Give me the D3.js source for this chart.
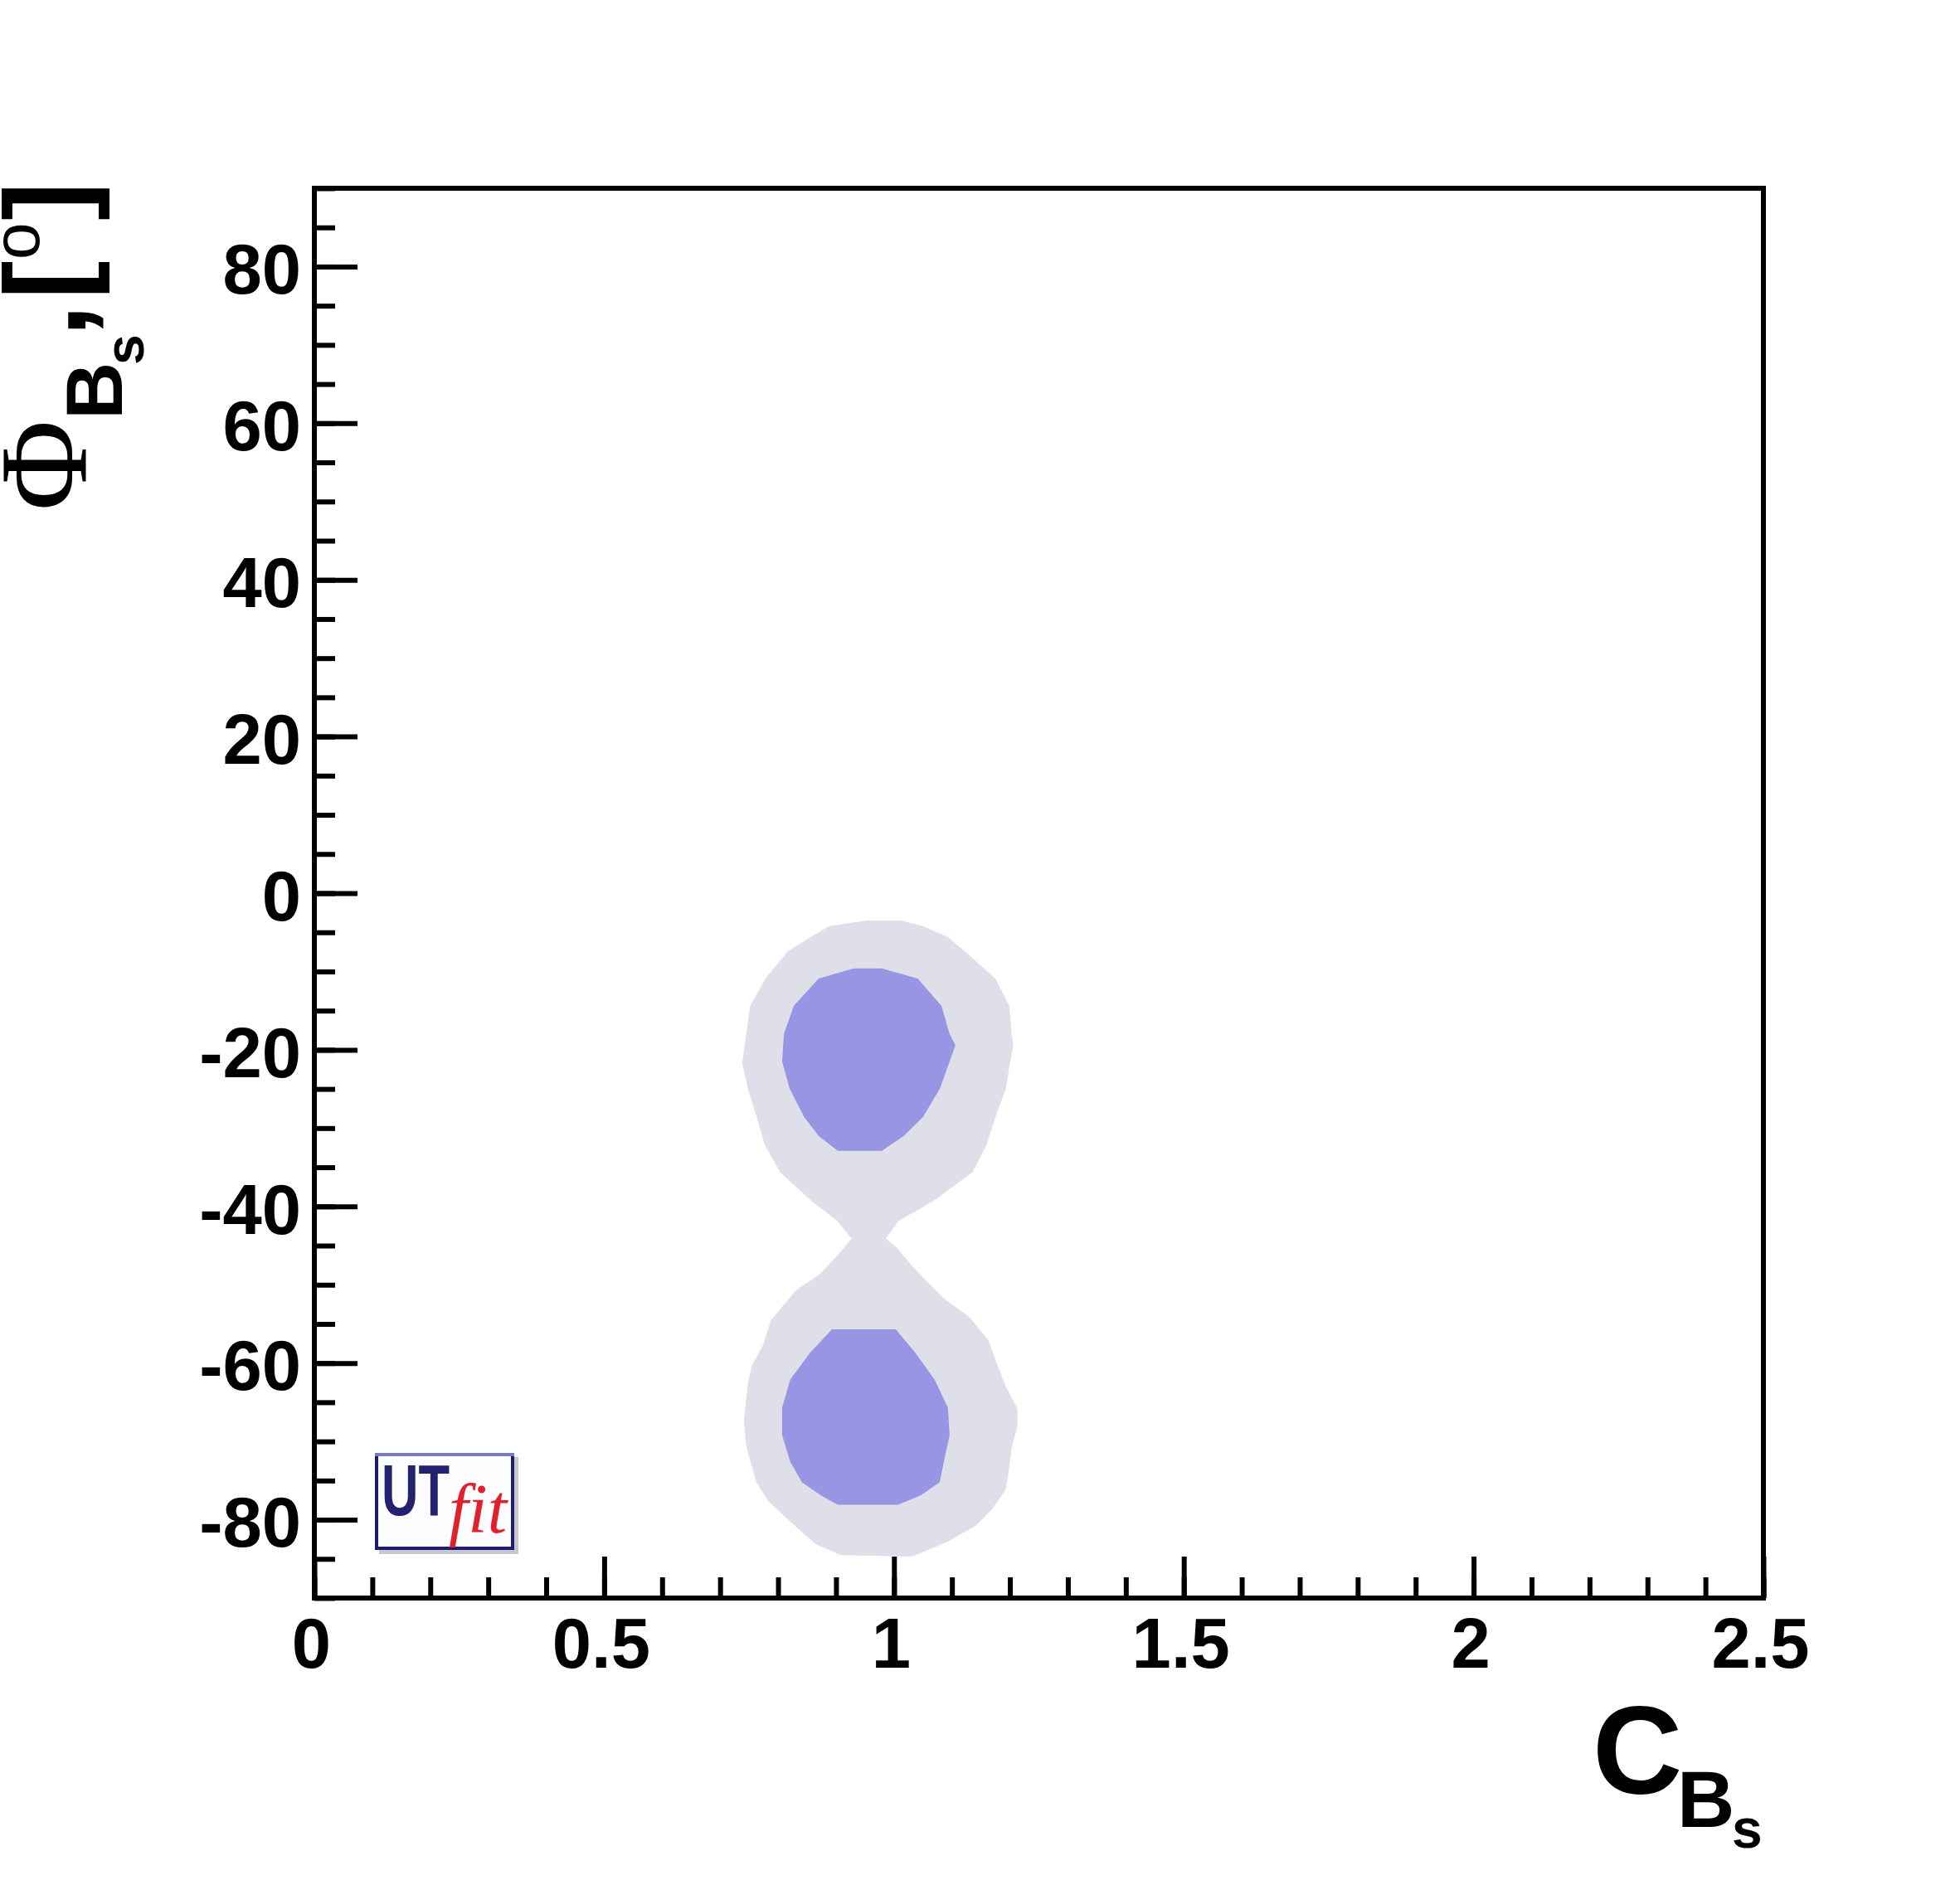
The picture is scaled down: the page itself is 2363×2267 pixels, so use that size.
<!DOCTYPE html>
<html>
<head>
<meta charset="utf-8">
<script src="https://cdn.jsdelivr.net/npm/d3@7"></script>
<style>
  body { margin: 0; background: #fff; }
</style>
</head>
<body>
<div id="chart"></div>
<script>
// C_Bs vs Phi_Bs probability regions (UTfit style plot)

var width = 2363,
	height = 2267;

// axis ranges and ticks
var xDomain = [0, 2.5],
	yDomain = [-90, 90];
var xMajor = [0, 0.5, 1, 1.5, 2, 2.5],
	yMajor = [-80, -60, -40, -20, 0, 20, 40, 60, 80];
var xLabels = ["0", "0.5", "1", "1.5", "2", "2.5"],
	yLabels = ["-80", "-60", "-40", "-20", "0", "20", "40", "60", "80"];
var xMinor = d3.range(0, 26).map(d => d / 10),
	yMinor = d3.range(-90, 91, 5);

// 95% region (light) as [C, phi]
var region95 = [
	[0.953, -3.5], [1.013, -3.5], [1.050, -4.2], [1.093, -5.6], [1.122, -7.4],
	[1.175, -10.9], [1.199, -14.4], [1.203, -18.0], [1.206, -19.4], [1.200, -21.7],
	[1.193, -25.0], [1.175, -28.6], [1.160, -32.1], [1.136, -35.6], [1.070, -39.2],
	[1.007, -41.9], [0.986, -44.1], [1.005, -45.3], [1.034, -47.8], [1.053, -49.3],
	[1.087, -51.8], [1.130, -54.1], [1.163, -57.1], [1.178, -60.2], [1.193, -63.0],
	[1.213, -65.8], [1.213, -68.0], [1.203, -70.8], [1.199, -73.3], [1.193, -76.1],
	[1.170, -78.6], [1.142, -80.7], [1.093, -82.8], [1.031, -84.7], [0.960, -84.6],
	[0.907, -84.5], [0.864, -83.1], [0.831, -80.9], [0.784, -77.7], [0.763, -75.3],
	[0.745, -70.6], [0.741, -67.4], [0.748, -62.5], [0.755, -60.3], [0.774, -57.7],
	[0.788, -54.5], [0.831, -50.7], [0.873, -48.6], [0.905, -46.0], [0.927, -44.1],
	[0.903, -41.9], [0.856, -39.2], [0.803, -35.6], [0.777, -32.1], [0.763, -28.6],
	[0.748, -25.0], [0.738, -21.7], [0.745, -18.0], [0.752, -14.4], [0.778, -10.9],
	[0.817, -7.4], [0.856, -5.6], [0.888, -4.2]
];

// 68% regions (dark)
var region68Upper = [
	[0.931, -9.6], [0.979, -9.6], [1.041, -10.9], [1.082, -14.4], [1.096, -18.0],
	[1.106, -19.4], [1.096, -21.5], [1.079, -25.0], [1.050, -28.6], [1.017, -31.0],
	[0.979, -32.9], [0.903, -32.9], [0.870, -31.0], [0.845, -28.6], [0.820, -25.0],
	[0.807, -21.5], [0.810, -18.0], [0.827, -14.4], [0.870, -10.9]
];
var region68Lower = [
	[0.893, -55.7], [1.003, -55.7], [1.036, -58.6], [1.070, -62.1], [1.093, -65.7],
	[1.096, -69.2], [1.086, -72.6], [1.079, -75.2], [1.046, -76.9], [1.007, -78.1],
	[0.903, -78.1], [0.874, -76.9], [0.841, -75.2], [0.821, -72.6], [0.807, -69.2],
	[0.807, -65.7], [0.821, -62.1], [0.856, -58.6]
];

var plot = {left: 379, right: 2126, top: 227, bottom: 1927};

var svg = d3.select("#chart").append("svg")
	.attr("width", width)
	.attr("height", height)
	.style("background", "#fff");

var x = d3.scaleLinear().domain(xDomain).range([plot.left, plot.right]);
var y = d3.scaleLinear().domain(yDomain).range([plot.bottom, plot.top]);

var area = d3.line()
	.x(d => x(d[0]))
	.y(d => y(d[1]))
	.curve(d3.curveLinearClosed);

// regions
var regions = svg.append("g").attr("class", "regions");
regions.append("path")
	.attr("d", area(region95))
	.attr("fill", "#dedfe8");
[region68Upper, region68Lower].forEach(function(r){
	regions.append("path")
		.attr("d", area(r))
		.attr("fill", "#9896e4");
});

// UTfit logo
var logo = svg.append("g").attr("class", "logo");
logo.append("rect")
	.attr("x", 457).attr("y", 1757)
	.attr("width", 168).attr("height", 117)
	.attr("fill", "#c8c8cc");
logo.append("rect")
	.attr("x", 454).attr("y", 1754)
	.attr("width", 164).attr("height", 113)
	.attr("fill", "#fdfdff")
	.attr("stroke", "#1c1c78")
	.attr("stroke-width", 4);
logo.append("line")
	.attr("x1", 452).attr("x2", 620)
	.attr("y1", 1754).attr("y2", 1754)
	.attr("stroke", "#7a7ac4")
	.attr("stroke-width", 4);
var logoText = logo.append("text")
	.attr("font-family", "Liberation Sans, Arial, sans-serif");
logoText.append("tspan")
	.attr("x", 460).attr("y", 1827)
	.attr("textLength", 82)
	.attr("lengthAdjust", "spacingAndGlyphs")
	.attr("font-weight", "bold")
	.attr("font-size", 88)
	.attr("fill", "#22226e")
	.text("UT");
logoText.append("tspan")
	.attr("x", 541).attr("y", 1848)
	.attr("font-family", "Liberation Serif, Times New Roman, serif")
	.attr("font-style", "italic")
	.attr("font-size", 84)
	.attr("fill", "#e0202a")
	.text("fit");

// axes
var fontFam = "Liberation Sans, Arial, Helvetica, sans-serif";

function styleAxis(g){
	g.select(".domain").remove();
	g.selectAll("line").attr("stroke", "#000").attr("stroke-width", 6);
	g.selectAll("text")
		.attr("font-family", fontFam)
		.attr("font-weight", "bold")
		.attr("font-size", 85)
		.attr("fill", "#000");
}

svg.append("g")
	.attr("transform", "translate(" + plot.left + ",0)")
	.call(d3.axisLeft(y).tickValues(yMinor).tickSizeInner(-25).tickSizeOuter(0).tickFormat(""))
	.call(styleAxis);

svg.append("g")
	.attr("transform", "translate(" + plot.left + ",0)")
	.call(d3.axisLeft(y).tickValues(yMajor).tickSizeInner(-52).tickSizeOuter(0).tickPadding(16)
		.tickFormat((d, i) => yLabels[i]))
	.call(styleAxis)
	.selectAll("text").attr("dy", "0.38em");

svg.append("g")
	.attr("transform", "translate(0," + plot.bottom + ")")
	.call(d3.axisBottom(x).tickValues(xMinor).tickSizeInner(-25).tickSizeOuter(0).tickFormat(""))
	.call(styleAxis);

svg.append("g")
	.attr("transform", "translate(0," + plot.bottom + ")")
	.call(d3.axisBottom(x).tickValues(xMajor).tickSizeInner(-50).tickSizeOuter(0).tickPadding(24)
		.tickFormat((d, i) => xLabels[i]))
	.call(styleAxis)
	.selectAll("text").attr("dx", -4);

// frame
svg.append("rect")
	.attr("x", plot.left).attr("y", plot.top)
	.attr("width", plot.right - plot.left)
	.attr("height", plot.bottom - plot.top)
	.attr("fill", "none")
	.attr("stroke", "#000")
	.attr("stroke-width", 6);

// x title: C_{B_s}
var xt = svg.append("text")
	.attr("font-family", fontFam)
	.attr("font-weight", "bold");
xt.append("tspan").attr("x", 1920).attr("y", 2163).attr("font-size", 150).text("C");
xt.append("tspan").attr("x", 2022).attr("y", 2203).attr("font-size", 96).text("B");
xt.append("tspan").attr("x", 2088).attr("y", 2228).attr("font-size", 66).text("s");

// y title: Phi_{B_s}, [deg]  (rotated frame: x = -screenY, y = screenX)
var yt = svg.append("text")
	.attr("transform", "rotate(-90)")
	.attr("font-family", fontFam)
	.attr("font-weight", "bold")
	.attr("font-size", 140);
yt.append("tspan")
	.attr("x", -616).attr("y", 103)
	.attr("font-family", "Liberation Serif, Times New Roman, serif")
	.attr("font-weight", "normal")
	.attr("font-size", 150)
	.text("Φ");
yt.append("tspan").attr("x", -506).attr("y", 147).attr("font-size", 96).text("B");
yt.append("tspan").attr("x", -440).attr("y", 173).attr("font-size", 66).text("s");
yt.append("tspan").attr("x", -406).attr("y", 103).text(",");
yt.append("tspan").attr("x", -361).attr("y", 103).text("[");
yt.append("tspan").attr("x", -313).attr("y", 47).attr("font-size", 80).attr("font-weight", "normal").text("o");
yt.append("tspan").attr("x", -266).attr("y", 103).text("]");
</script>
</body>
</html>
